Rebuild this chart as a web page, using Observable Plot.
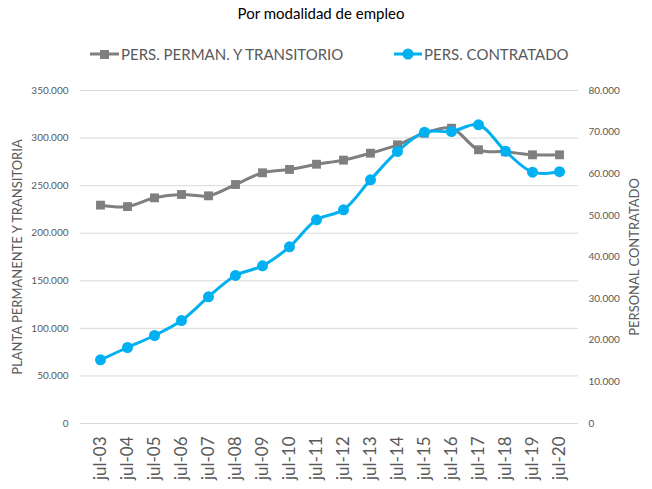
<!DOCTYPE html>
<html><head><meta charset="utf-8">
<script src="https://cdn.jsdelivr.net/npm/d3@7"></script>
<script src="https://cdn.jsdelivr.net/npm/@observablehq/plot@0.6"></script>
<style>
body{margin:0;background:#fff;font-family:Lato,"Open Sans",sans-serif;}
#wrap{position:relative;width:652px;height:489px;overflow:hidden;}
#title{position:absolute;top:4px;left:-5px;width:652px;text-align:center;font-size:15px;color:#000;}
.leg{position:absolute;top:44px;height:20px;display:flex;align-items:center;font-size:15px;color:#595959;white-space:nowrap;}
.leg svg{margin-right:2px;}
#chart{position:absolute;top:75px;left:0;}
</style>
</head><body>
<div id="wrap">
<div id="title">Por modalidad de empleo</div>
<div class="leg" style="left:90px"><svg width="29" height="14"><line x1="0" x2="29" y1="7" y2="7" stroke="#7f7f7f" stroke-width="3"/><rect x="10" y="3" width="9" height="9" fill="#7f7f7f"/></svg>PERS. PERMAN. Y TRANSITORIO</div>
<div class="leg" style="left:394px"><svg width="28" height="14"><line x1="0" x2="28" y1="7" y2="7" stroke="#00b0f0" stroke-width="3"/><circle cx="14" cy="7" r="5.5" fill="#00b0f0"/></svg>PERS. CONTRATADO</div>
<div id="chart"></div>
</div>
<script>
const months = ["jul-03","jul-04","jul-05","jul-06","jul-07","jul-08","jul-09","jul-10","jul-11","jul-12","jul-13","jul-14","jul-15","jul-16","jul-17","jul-18","jul-19","jul-20"];
const permanente = [229500,228000,237200,240700,239300,251200,263500,267000,272500,276800,284100,292900,305100,310400,287700,285600,282400,282400];
const contratado = [15300,18260,21140,24740,30430,35560,37880,42450,48930,51330,58540,65350,69990,70150,71750,65420,60380,60500];
const leftTicks = [0,50000,100000,150000,200000,250000,300000,350000];
const rightTicks = [0,10000,20000,30000,40000,50000,60000,70000,80000];
const leftTitle = "PLANTA PERMANENTE Y TRANSITORIA";
const rightTitle = "PERSONAL CONTRATADO";

const ratio = 350000 / 80000;
const fmt = d => d3.format(",")(d).replace(/,/g, ".");
const rows = months.map((m, i) => ({m, p: permanente[i], c: contratado[i] * ratio}));

const chart = Plot.plot({
  width: 652, height: 414,
  marginTop: 15, marginBottom: 66, marginLeft: 80, marginRight: 74,
  style: {fontFamily: "Lato, 'Open Sans', sans-serif", fontSize: "10px", color: "#595959", background: "white"},
  x: {type: "point", domain: months, padding: 0.5},
  y: {domain: [0, 350000]},
  marks: [
    Plot.gridY(leftTicks, {stroke: "#d9d9d9", strokeOpacity: 1, strokeWidth: 1}),
    Plot.axisY(leftTicks, {anchor: "left", tickSize: 0, tickPadding: 12, tickFormat: fmt, label: null, fontSize: 10, fill: "#595959"}),
    Plot.axisY(rightTicks.map(v => v * ratio), {anchor: "right", tickSize: 0, tickPadding: 10, tickFormat: d => fmt(Math.round(d / ratio)), label: null, fontSize: 10, fill: "#595959"}),
    Plot.axisX({tickSize: 0, tickRotate: -90, tickPadding: 13, fontSize: 17, label: null, fill: "#595959"}),
    Plot.line(rows, {x: "m", y: "p", stroke: "#7f7f7f", strokeWidth: 3, curve: "catmull-rom"}),
    Plot.dot(rows, {x: "m", y: "p", symbol: "square", r: 5, fill: "#7f7f7f"}),
    Plot.line(rows, {x: "m", y: "c", stroke: "#00b0f0", strokeWidth: 3, curve: "catmull-rom"}),
    Plot.dot(rows, {x: "m", y: "c", r: 5.5, fill: "#00b0f0"}),
    Plot.text([leftTitle], {text: d => d, frameAnchor: "left", textAnchor: "middle", dx: -63, dy: 0, rotate: -90, fontSize: 13, fill: "#595959"}),
    Plot.text([rightTitle], {text: d => d, frameAnchor: "right", textAnchor: "middle", dx: 56, rotate: -90, fontSize: 13, fill: "#595959"})
  ]
});
document.getElementById("chart").append(chart);
</script>
</body></html>
